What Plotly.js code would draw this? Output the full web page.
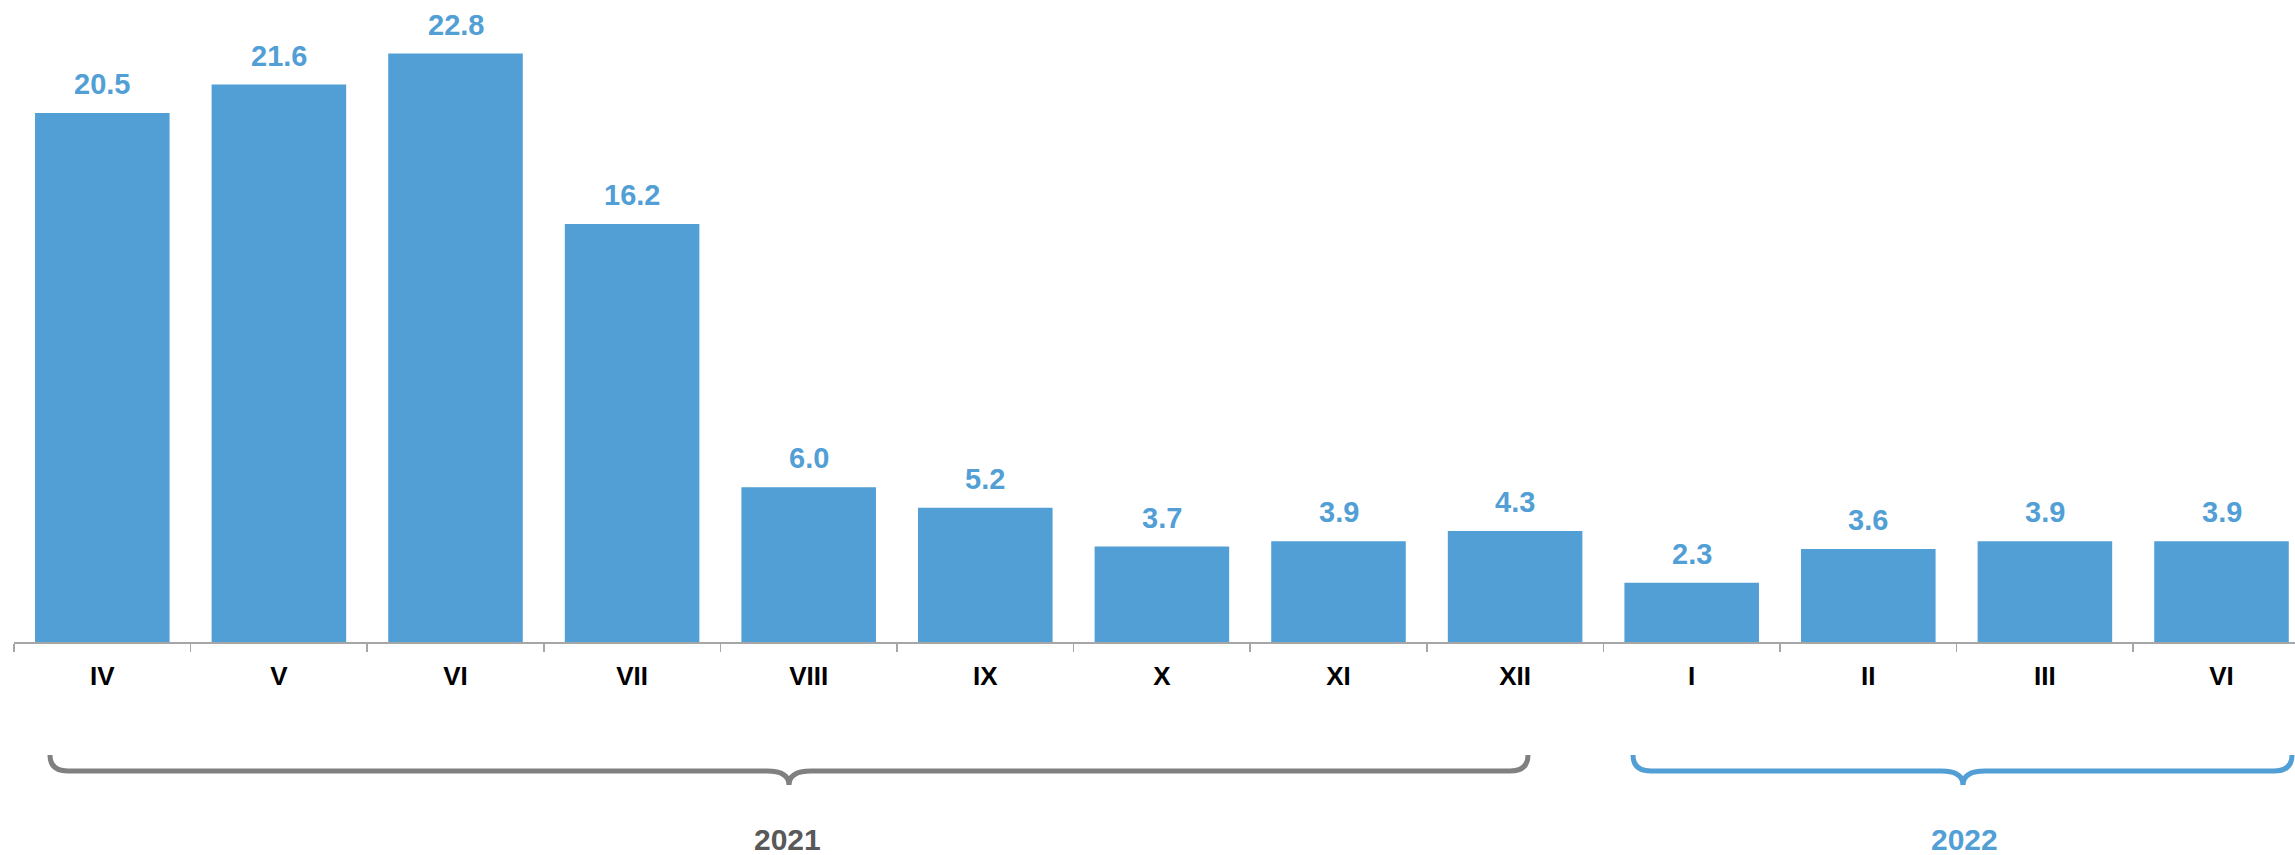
<!DOCTYPE html>
<html>
<head>
<meta charset="utf-8">
<script src="https://cdn.plot.ly/plotly-3.0.1.min.js"></script>
<style>
html,body{margin:0;padding:0;background:#fff;}
#chart{width:2295px;height:855px;}
</style>
</head>
<body>
<div id="chart"></div>
<script>
// ---- data ----
const months = ["IV", "V", "VI", "VII", "VIII", "IX", "X", "XI", "XII", "I", "II", "III", "VI "];
const monthLabels = ["IV", "V", "VI", "VII", "VIII", "IX", "X", "XI", "XII", "I", "II", "III", "VI"];
const values = [20.5, 21.6, 22.8, 16.2, 6.0, 5.2, 3.7, 3.9, 4.3, 2.3, 3.6, 3.9, 3.9];
const years = ["2021", "2022"];

// ---- style ----
const BLUE = "#529FD6";
const GRAY = "#808080";
const W = 2295, H = 855;
const ML = 14, MB = 213;
const PW = W - ML, PH = H - MB;
const pxPerCat = 176.6;
const pxPerUnit = 25.81;

function px(x) { return (x - ML) / PW; }
function py(y) { return (PH - y) / PH; }

function bracePath(xL, xR, xM, yTop, yLine, yTip) {
  const p = (x, y) => px(x).toFixed(5) + "," + py(y).toFixed(5);
  return "M" + p(xL, yTop) +
    " Q" + p(xL, yLine) + " " + p(xL + 18, yLine) +
    " L" + p(xM - 22, yLine) +
    " Q" + p(xM, yLine) + " " + p(xM, yTip) +
    " Q" + p(xM, yLine) + " " + p(xM + 22, yLine) +
    " L" + p(xR - 18, yLine) +
    " Q" + p(xR, yLine) + " " + p(xR, yTop);
}

const trace = {
  type: "bar",
  x: months,
  y: values,
  marker: { color: BLUE },
  hoverinfo: "skip"
};

const valueAnnotations = months.map((m, i) => ({
  x: m, y: values[i], xref: "x", yref: "y",
  text: values[i].toFixed(1),
  showarrow: false, yanchor: "bottom", xanchor: "center",
  yshift: 11,
  font: { family: "Liberation Sans, Arial, sans-serif", size: 29, color: BLUE, weight: "bold" }
}));

const yearAnnotations = [
  { x: px(787), y: py(821), text: years[0], color: "#595959" },
  { x: px(1964), y: py(821), text: years[1], color: BLUE }
].map(a => ({
  x: a.x, y: a.y, xref: "paper", yref: "paper", text: "<b>" + a.text + "</b>",
  showarrow: false, xanchor: "center", yanchor: "top",
  font: { family: "Liberation Sans, Arial, sans-serif", size: 30, color: a.color }
}));

const layout = {
  width: W, height: H,
  margin: { l: ML, r: 0, t: 0, b: MB, pad: 0 },
  paper_bgcolor: "#fff", plot_bgcolor: "#fff",
  showlegend: false,
  bargap: 0.238,
  xaxis: {
    type: "category",
    range: [-0.5, -0.5 + PW / pxPerCat],
    tickmode: "array", tickvals: months, ticktext: monthLabels.map(s => "<b>" + s + "</b>"),
    tickson: "boundaries",
    ticks: "outside", ticklen: 8, tickcolor: "#a6a6a6", tickwidth: 1.5,
    ticklabelstandoff: 10,
    showline: true, linecolor: "#a6a6a6", linewidth: 1.5,
    showgrid: false, zeroline: false,
    tickfont: { family: "Liberation Sans, Arial, sans-serif", size: 26, color: "#000" },
    fixedrange: true
  },
  yaxis: {
    range: [0, PH / pxPerUnit],
    visible: false, showgrid: false, zeroline: false, fixedrange: true
  },
  shapes: [
    { type: "path", xref: "paper", yref: "paper", path: bracePath(50, 1528, 789, 755, 771, 785),
      line: { color: GRAY, width: 5 } },
    { type: "path", xref: "paper", yref: "paper", path: bracePath(1633, 2292, 1963, 755, 771, 785),
      line: { color: BLUE, width: 5 } }
  ],
  annotations: valueAnnotations.concat(yearAnnotations)
};

Plotly.newPlot("chart", [trace], layout, { staticPlot: true, displayModeBar: false });
</script>
</body>
</html>
